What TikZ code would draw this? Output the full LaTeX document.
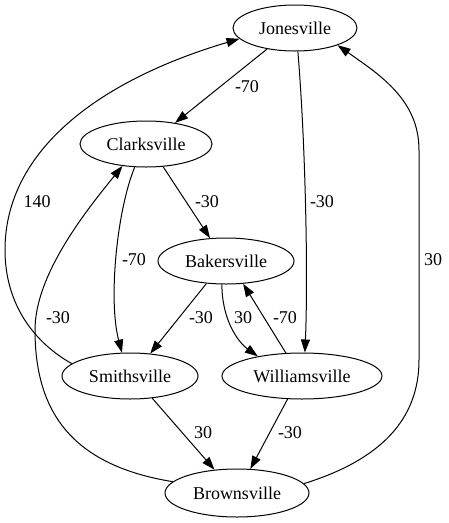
\documentclass[tikz,border=0pt]{standalone}
\usepackage{fontspec}
\setmainfont{Liberation Serif}
\usetikzlibrary{shapes.geometric,arrows.meta}
\begin{document}
\begin{tikzpicture}[x=1pt,y=1pt,
  city/.style={draw,ellipse,line width=1pt,inner sep=0pt,font=\fontsize{18}{20}\selectfont},
  lbl/.style={inner sep=0pt,font=\fontsize{18}{20}\selectfont},
  edge/.style={draw,line width=1pt,-{Triangle[length=13pt,width=9pt]}}]
\useasboundingbox (0,0) rectangle (449,-523);
% nodes
\node[city,minimum width=124pt,minimum height=46pt] (J) at (295,-28) {Jonesville};
\node[city,minimum width=132pt,minimum height=46pt] (C) at (146,-144) {Clarksville};
\node[city,minimum width=136pt,minimum height=46pt] (B) at (226,-261) {Bakersville};
\node[city,minimum width=136pt,minimum height=46pt] (S) at (130,-376) {Smithsville};
\node[city,minimum width=160pt,minimum height=46pt] (W) at (302,-376) {Williamsville};
\node[city,minimum width=144pt,minimum height=48pt] (Br) at (237,-493) {Brownsville};
% edges
\draw[edge] (J.-143) -- (C.36);
\draw[edge] (J.-83) .. controls (306,-150) and (308,-280) .. (W.83);
\draw[edge] (C.-53) -- (B.125);
\draw[edge] (C.-116) .. controls (117,-210) and (108,-300) .. (S.109);
\draw[edge] (B.-131) -- (S.48);
\draw[edge] (B.-100) .. controls (222,-320) and (238,-342) .. (W.156);
\draw[edge] (W.125) -- (B.-53);
\draw[edge] (S.-45) -- (Br.134);
\draw[edge] (W.-122) -- (Br.61);
\draw[edge] (S.168) .. controls (30,-340) and (5,-300) .. (5,-250)
  .. controls (5,-150) and (100,-80) .. (J.191);
\draw[edge] (Br.170) .. controls (70,-465) and (35,-410) .. (35,-330)
  .. controls (35,-275) and (85,-212) .. (C.223);
\draw[edge] (Br.8) .. controls (380,-460) and (419,-420) .. (419,-360)
  -- (419,-150) .. controls (419,-100) and (380,-75) .. (J.-22);
% labels
\node[lbl] (l1) at (247,-87) {-70};
\node[lbl] (l2) at (322,-202) {-30};
\node[lbl] (l3) at (207,-202) {-30};
\node[lbl] (l4) at (37,-202) {140};
\node[lbl] (l5) at (134,-260) {-70};
\node[lbl] (l6) at (433,-260) {30};
\node[lbl] (l7) at (58,-318) {-30};
\node[lbl] (l8) at (201,-318) {-30};
\node[lbl] (l9) at (243,-318) {30};
\node[lbl] (l10) at (285,-318) {-70};
\node[lbl] (l11) at (203,-433) {30};
\node[lbl] (l12) at (290,-433) {-30};
\end{tikzpicture}
\end{document}
